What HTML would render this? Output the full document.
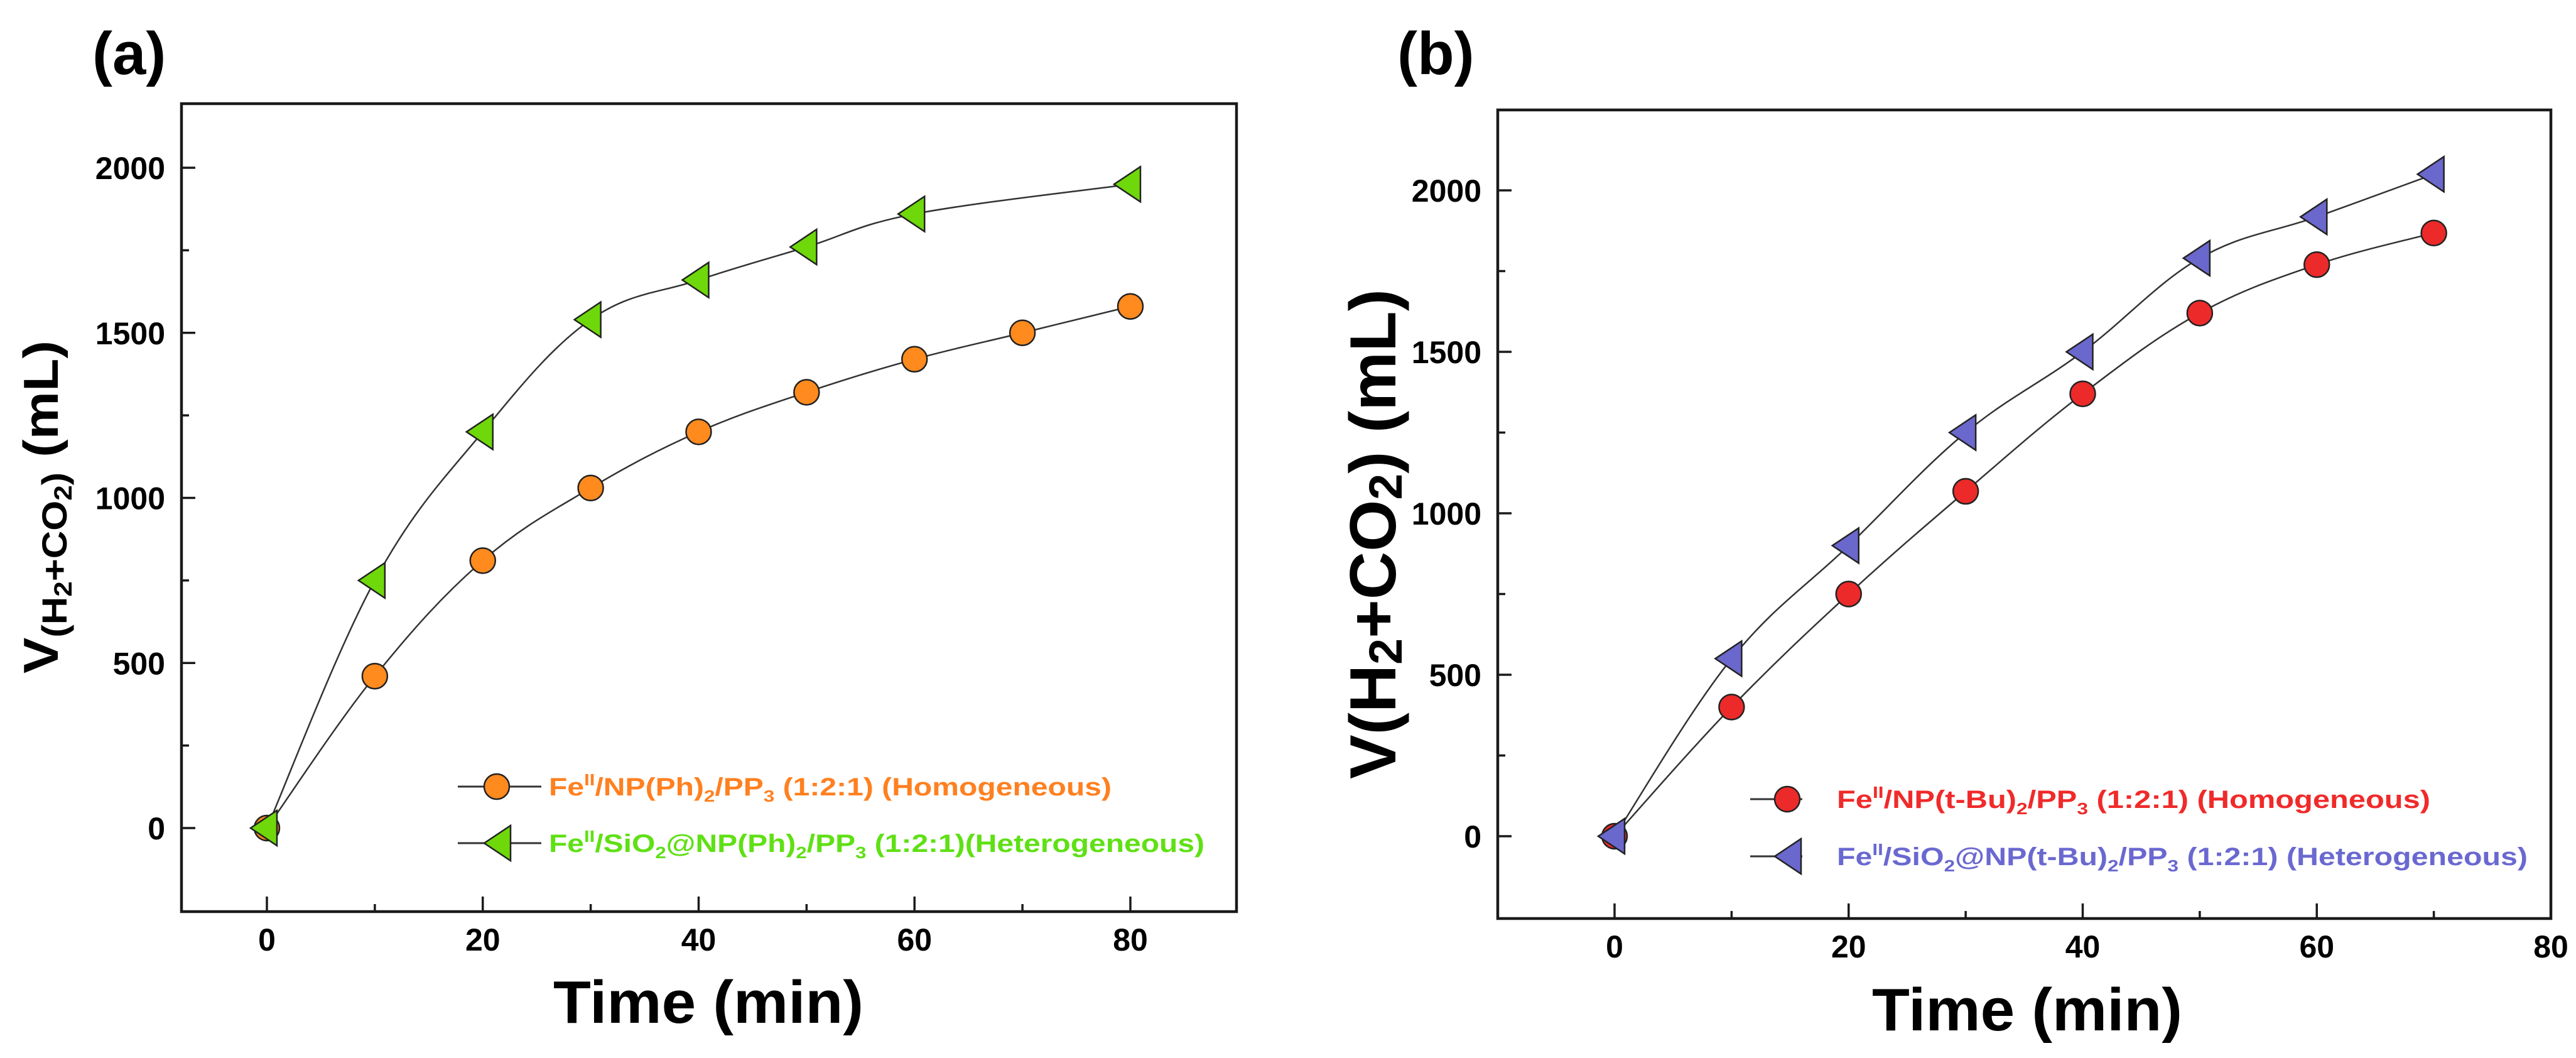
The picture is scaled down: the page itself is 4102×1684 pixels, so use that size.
<!DOCTYPE html>
<html><head><meta charset="utf-8"><style>
html,body{margin:0;padding:0;background:#fff;}
svg{display:block;font-family:"Liberation Sans",sans-serif;font-weight:bold;}
</style></head><body>
<svg id="fig" width="4102" height="1684" viewBox="0 0 4102 1684" xmlns="http://www.w3.org/2000/svg">
<g id="pa"></g>
<g id="pb"></g>
</svg>
<script>
// Panel (a) data
const timeA1 = [0,10,20,30,40,50,60,70,80];
const homoA = [0,460,810,1030,1200,1320,1420,1500,1580];
const timeA2 = [0,10,20,30,40,50,60,80];
const heteroA = [0,750,1200,1540,1660,1760,1860,1950];
// Panel (b) data
const timeB = [0,10,20,30,40,50,60,70];
const homoB = [0,400,750,1068,1370,1620,1770,1868];
const heteroB = [0,550,900,1250,1500,1790,1918,2050];
// Ticks
const xTicks = [0,20,40,60,80];
const xMinor = [10,30,50,70];
const yTicks = [0,500,1000,1500,2000];
const yMinor = [250,750,1250,1750];

const NS="http://www.w3.org/2000/svg";
function mk(tag, attrs, parent){const e=document.createElementNS(NS,tag);for(const k in attrs)e.setAttribute(k,attrs[k]);parent.appendChild(e);return e;}

function smoothPath(pts){
  let d=`M${pts[0][0]},${pts[0][1]}`;
  for(let i=0;i<pts.length-1;i++){
    const p0=pts[Math.max(0,i-1)],p1=pts[i],p2=pts[i+1],p3=pts[Math.min(pts.length-1,i+2)];
    const t=0.18;
    const c1=[p1[0]+(p2[0]-p0[0])*t,p1[1]+(p2[1]-p0[1])*t];
    const c2=[p2[0]-(p3[0]-p1[0])*t,p2[1]-(p3[1]-p1[1])*t];
    d+=` C${c1[0]},${c1[1]} ${c2[0]},${c2[1]} ${p2[0]},${p2[1]}`;
  }
  return d;
}

function circle(g,cx,cy,fill){
  const c=mk('circle',{cx:cx,cy:cy,r:20,fill:fill,stroke:'#222','stroke-width':2.5},g);
  
  
}
function tri(g,cx,cy,fill){
  const p=mk('polygon',{points:`${cx-26},${cy} ${cx+16},${cy-28} ${cx+16},${cy+28}`,fill:fill,stroke:'#222','stroke-width':2.5,'stroke-linejoin':'miter'},g);
  
  
}

function panel(g,cfg){
  const sx=v=>cfg.x0+v*cfg.kx, sy=v=>cfg.y0-v*cfg.ky;
  const f=mk('rect',{x:cfg.L,y:cfg.T,width:cfg.R-cfg.L,height:cfg.B-cfg.T,fill:'none',stroke:'#1a1a1a','stroke-width':4.5},g);
  
  
  xTicks.forEach(v=>{
    if(sx(v)>cfg.R+2) return;
    if(sx(v)<cfg.R-3) mk('line',{x1:sx(v),x2:sx(v),y1:cfg.B,y2:cfg.B-24,stroke:'#1a1a1a','stroke-width':3.5},g);
    const t=mk('text',{x:sx(v),y:cfg.B+62,'text-anchor':'middle','font-size':50,fill:'#000'},g);
    t.textContent=v;
    
    
  });
  xMinor.forEach(v=>{ if(sx(v)<cfg.R-3) mk('line',{x1:sx(v),x2:sx(v),y1:cfg.B,y2:cfg.B-12,stroke:'#1a1a1a','stroke-width':3.5},g); });
  yTicks.forEach(v=>{
    mk('line',{x1:cfg.L,x2:cfg.L+22,y1:sy(v),y2:sy(v),stroke:'#1a1a1a','stroke-width':3.5},g);
    const t=mk('text',{x:cfg.L-26,y:sy(v)+18,'text-anchor':'end','font-size':50,fill:'#000'},g);
    t.textContent=v;
    
    
  });
  yMinor.forEach(v=>mk('line',{x1:cfg.L,x2:cfg.L+12,y1:sy(v),y2:sy(v),stroke:'#1a1a1a','stroke-width':3.5},g));
  cfg.series.forEach(s=>{
    const pts=s.t.map((t,i)=>[sx(t),sy(s.v[i])]);
    const p=mk('path',{d:smoothPath(pts),fill:'none',stroke:'#333','stroke-width':2.5},g);
    
    
  });
  cfg.series.forEach(s=>{
    s.t.forEach((t,i)=>{ s.shape==='c'?circle(g,sx(t),sy(s.v[i]),s.fill):tri(g,sx(t),sy(s.v[i]),s.fill); });
  });
}

const ga=document.getElementById('pa'), gb=document.getElementById('pb');
panel(ga,{L:289,T:165,R:1969,B:1451,x0:425,kx:(1800-425)/80,y0:1318,ky:(1318-267)/2000,
  series:[{name:'homogeneous-a',t:timeA1,v:homoA,shape:'c',fill:'#ff8a1e'},
          {name:'heterogeneous-a',t:timeA2,v:heteroA,shape:'t',fill:'#6ed80a'}]});
panel(gb,{L:2385,T:175,R:4062,B:1462,x0:2571,kx:(4062-2571)/80,y0:1331,ky:(1331-303)/2000,
  series:[{name:'homogeneous-b',t:timeB,v:homoB,shape:'c',fill:'#ec2a2a'},
          {name:'heterogeneous-b',t:timeB,v:heteroB,shape:'t',fill:'#6a68cc'}]});

function legend(g,lx1,lx2,mx,y,shape,fill){
  const l=mk('line',{x1:lx1,x2:lx2,y1:y,y2:y,stroke:'#333','stroke-width':3},g);
  
  
  shape==='c'?circle(g,mx,y,fill):tri(g,mx,y,fill);
}
legend(ga,729,862,791,1252,'c','#ff8a1e');
legend(ga,729,862,797,1342,'t','#6ed80a');
legend(gb,2787,2870,2846,1272,'c','#ec2a2a');
legend(gb,2787,2870,2852,1363,'t','#6a68cc');
</script>
<svg style="position:absolute;left:0;top:0" width="4102" height="1684" viewBox="0 0 4102 1684" xmlns="http://www.w3.org/2000/svg" font-family="Liberation Sans, sans-serif" font-weight="bold">
  <text x="147" y="118" font-size="96" fill="#000">(a)</text>
  <text x="2225" y="118" font-size="96" fill="#000">(b)</text>
  <text x="1128" y="1628" font-size="96" text-anchor="middle" textLength="494" lengthAdjust="spacingAndGlyphs" fill="#000">Time (min)</text>
  <text x="3228" y="1640" font-size="96" text-anchor="middle" textLength="494" lengthAdjust="spacingAndGlyphs" fill="#000">Time (min)</text>
  <text transform="translate(92,807) rotate(-90)" text-anchor="middle" font-size="78" fill="#000" textLength="530" lengthAdjust="spacingAndGlyphs">V<tspan font-size="56" dy="14">(H</tspan><tspan font-size="40" dy="8">2</tspan><tspan font-size="56" dy="-8">+CO</tspan><tspan font-size="40" dy="8">2</tspan><tspan font-size="56" dy="-8">)</tspan><tspan dy="-14"> (mL)</tspan></text>
  <text transform="translate(2222,850) rotate(-90)" text-anchor="middle" font-size="104" fill="#000" textLength="780" lengthAdjust="spacingAndGlyphs">V(H<tspan font-size="74" dy="10">2</tspan><tspan dy="-10">+CO</tspan><tspan font-size="74" dy="10">2</tspan><tspan dy="-10">) (mL)</tspan></text>

  <text x="874" y="1266" font-size="40" fill="#ff8020" textLength="896" lengthAdjust="spacingAndGlyphs">Fe<tspan font-size="26" dy="-16">II</tspan><tspan dy="16">/NP(Ph)</tspan><tspan font-size="26" dy="10">2</tspan><tspan dy="-10">/PP</tspan><tspan font-size="26" dy="10">3</tspan><tspan dy="-10"> (1:2:1) (Homogeneous)</tspan></text>
  <text x="874" y="1356" font-size="40" fill="#5fe014" textLength="1044" lengthAdjust="spacingAndGlyphs">Fe<tspan font-size="26" dy="-16">II</tspan><tspan dy="16">/SiO</tspan><tspan font-size="26" dy="10">2</tspan><tspan dy="-10">@NP(Ph)</tspan><tspan font-size="26" dy="10">2</tspan><tspan dy="-10">/PP</tspan><tspan font-size="26" dy="10">3</tspan><tspan dy="-10"> (1:2:1)(Heterogeneous)</tspan></text>
  <text x="2925" y="1286" font-size="40" fill="#f02a2a" textLength="945" lengthAdjust="spacingAndGlyphs">Fe<tspan font-size="26" dy="-16">II</tspan><tspan dy="16">/NP(t-Bu)</tspan><tspan font-size="26" dy="10">2</tspan><tspan dy="-10">/PP</tspan><tspan font-size="26" dy="10">3</tspan><tspan dy="-10"> (1:2:1) (Homogeneous)</tspan></text>
  <text x="2925" y="1377" font-size="40" fill="#6a68d0" textLength="1100" lengthAdjust="spacingAndGlyphs">Fe<tspan font-size="26" dy="-16">II</tspan><tspan dy="16">/SiO</tspan><tspan font-size="26" dy="10">2</tspan><tspan dy="-10">@NP(t-Bu)</tspan><tspan font-size="26" dy="10">2</tspan><tspan dy="-10">/PP</tspan><tspan font-size="26" dy="10">3</tspan><tspan dy="-10"> (1:2:1) (Heterogeneous)</tspan></text>
</svg>
</body></html>
